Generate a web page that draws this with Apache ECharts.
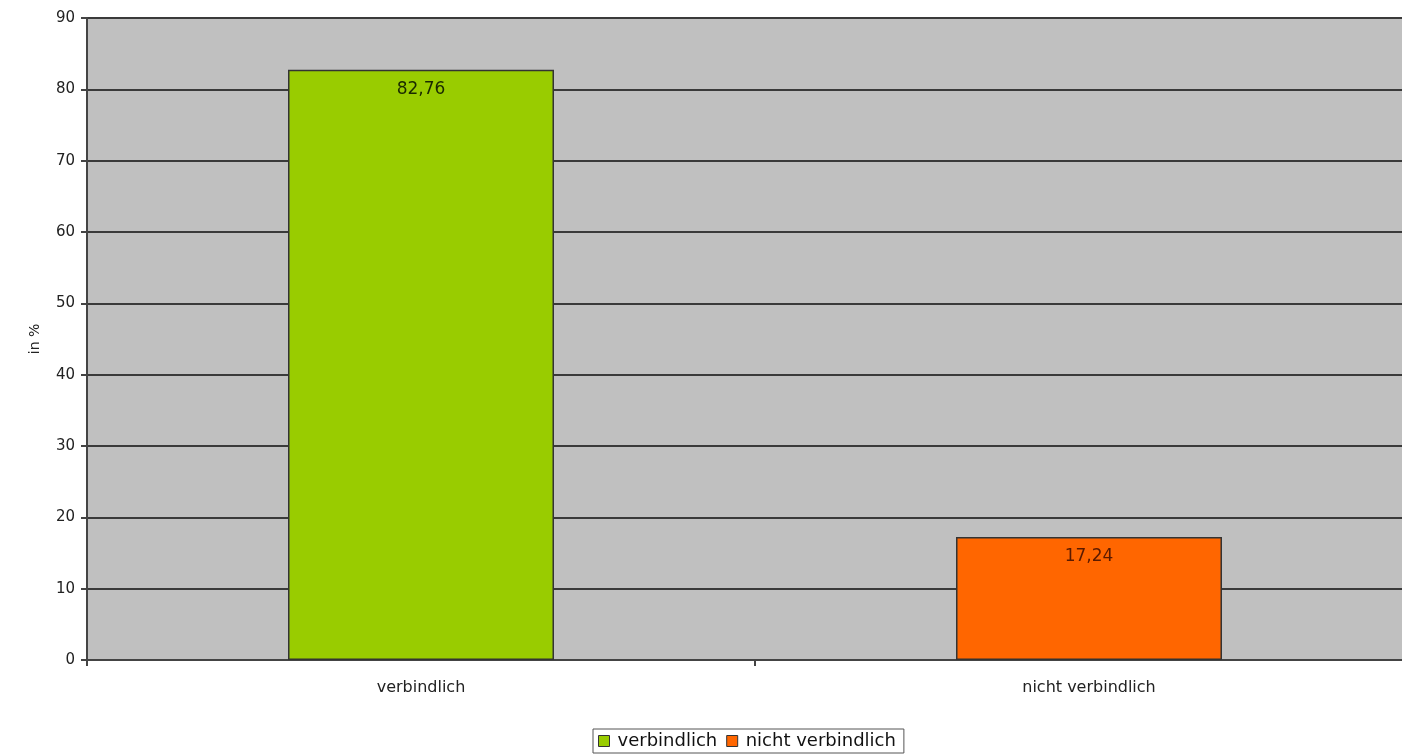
<!DOCTYPE html>
<html><head><meta charset="utf-8">
<script src="https://cdn.jsdelivr.net/npm/echarts@6/dist/echarts.min.js"></script>
<style>html,body{margin:0;padding:0;background:#fff;overflow:hidden}#c{width:1423px;height:756px}</style>
</head><body><div id="c"></div>
<script>
const categories = ['verbindlich', 'nicht verbindlich'];
const values = [82.76, 17.24];
const colors = ['#99CC00', '#FF6600'];
const labelColors = ['#1a2a00', '#5a1a00'];
const yTicks = [0, 10, 20, 30, 40, 50, 60, 70, 80, 90];

const chart = echarts.init(document.getElementById('c'));
const font = 'DejaVu Sans';
chart.setOption({
  animation: false,
  textStyle: { fontFamily: font },
  grid: { left: 87, right: 0, top: 18, bottom: 96, backgroundColor: '#C0C0C0', show: true, borderWidth: 0 },
  legend: {
    bottom: 3, left: 593, itemWidth: 11, itemHeight: 11, itemGap: 9,
    borderColor: '#555', borderWidth: 1, padding: [3, 8, 3, 5], borderRadius: 0,
    textStyle: { fontFamily: font, fontSize: 18, color: '#111', padding: [0, 0, 0, 3] },
    data: categories.map((c, i) => ({ name: c, icon: 'rect', itemStyle: { color: colors[i], borderColor: '#333', borderWidth: 1 } }))
  },
  xAxis: {
    type: 'category', data: categories,
    axisLine: { lineStyle: { color: '#444', width: 2 } },
    axisTick: { show: true, length: 6, lineStyle: { color: '#444', width: 2 } },
    axisLabel: { color: '#222', fontSize: 16, margin: 20, fontFamily: font }
  },
  yAxis: {
    type: 'value', min: 0, max: 90, interval: 10,
    name: 'in %', nameLocation: 'middle', nameGap: 45, nameRotate: 90,
    nameTextStyle: { color: '#222', fontSize: 14, fontFamily: font },
    axisLine: { show: true, lineStyle: { color: '#444', width: 2 } },
    axisTick: { show: true, length: 6, lineStyle: { color: '#444', width: 2 } },
    axisLabel: { color: '#222', fontSize: 15, margin: 12, fontFamily: font,
      formatter: v => yTicks.includes(v) ? String(v) : '' },
    splitLine: { show: true, lineStyle: { color: '#3a3a3a', width: 2 } }
  },
  series: categories.map((c, i) => ({
    name: c, type: 'bar', stack: 'a', barWidth: 266,
    data: categories.map((_, j) => j === i ? values[i] : null),
    itemStyle: { color: colors[i], borderColor: '#333', borderWidth: 1.5 },
    label: { show: true, position: 'insideTop', distance: 11, color: labelColors[i], fontSize: 17, fontFamily: font,
      formatter: p => p.value == null ? '' : p.value.toFixed(2).replace('.', ',') }
  }))
});
</script></body></html>
